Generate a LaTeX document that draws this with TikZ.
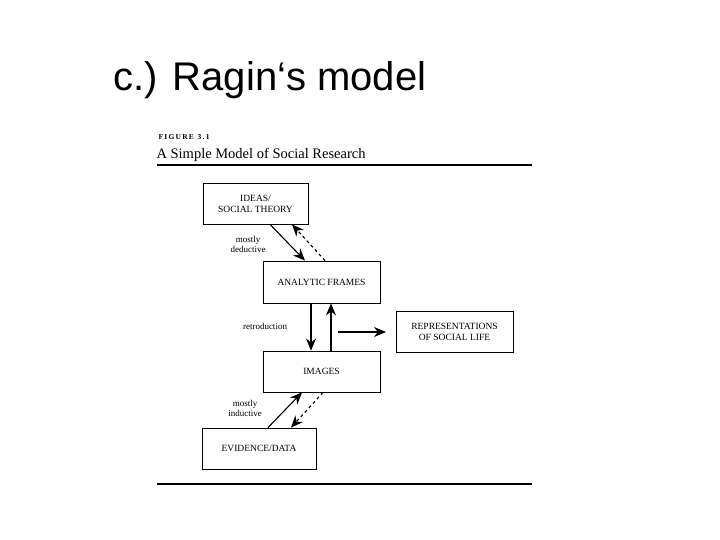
\documentclass[tikz,border=0pt]{standalone}
\usepackage{fontspec}
\setmainfont{Liberation Serif}
\newfontfamily\titlefont{Liberation Sans}
\usetikzlibrary{arrows.meta}
\begin{document}
\begin{tikzpicture}[x=1pt,y=-1pt,
  box/.style={draw,thick,align=center,font=\fontsize{9.5}{11}\selectfont,inner sep=0},
  lab/.style={align=center,font=\fontsize{9}{10}\selectfont},
  arr/.style={-{Stealth[length=12pt,width=10pt]},line width=1.1pt},
  darr/.style={arr,dashed}]
\useasboundingbox (0,0) rectangle (720,540);
\node[font=\titlefont\fontsize{40}{42}\selectfont,anchor=west] (t) at (110,80) {c.) Ragin‘s model};
\node[anchor=west,font=\bfseries\fontsize{7.5}{8}\selectfont] (f) at (155,137) {F\,I\,G\,U\,R\,E\ \ 3\,.\,1};
\node[anchor=west,font=\fontsize{14.5}{16}\selectfont] (s) at (153,155) {A Simple Model of Social Research};
\coordinate (l1a) at (157,165); \coordinate (l1b) at (532,165);
\coordinate (l2a) at (157,484); \coordinate (l2b) at (532,484);
\draw[line width=1.2pt] (l1a) -- (l1b);
\draw[line width=1.2pt] (l2a) -- (l2b);
\node[box,minimum width=105,minimum height=41] (ideas) at (255.5,203.5) {IDEAS/\\SOCIAL THEORY};
\node[box,minimum width=117,minimum height=42] (af) at (321.5,282) {ANALYTIC FRAMES};
\node[box,minimum width=117,minimum height=41] (img) at (321.5,371.5) {IMAGES};
\node[box,minimum width=117,minimum height=41] (rep) at (454.5,331.5) {REPRESENTATIONS\\OF SOCIAL LIFE};
\node[box,minimum width=114,minimum height=41] (ev) at (259,448.5) {EVIDENCE/DATA};
\draw[arr] (ideas.south -| 270,0) -- (af.north -| 305,0);
\draw[darr] (af.north -| 325,0) -- (ideas.south -| 292,0);
\draw[arr] (af.south -| 311,0) -- (img.north -| 311,0);
\draw[arr] (img.north -| 331,0) -- (af.south -| 331,0);
\coordinate (hs) at (338,332); \coordinate (he) at (386,332);
\draw[arr] (hs) -- (he);
\draw[arr] (ev.north -| 268,0) -- (img.south -| 302,0);
\draw[darr] (img.south -| 323,0) -- (ev.north -| 291,0);
\node[lab] (md) at (248,244) {mostly\\deductive};
\node[lab] (re) at (265,326) {retroduction};
\node[lab] (mi) at (245,408) {mostly\\inductive};
\end{tikzpicture}
\end{document}
